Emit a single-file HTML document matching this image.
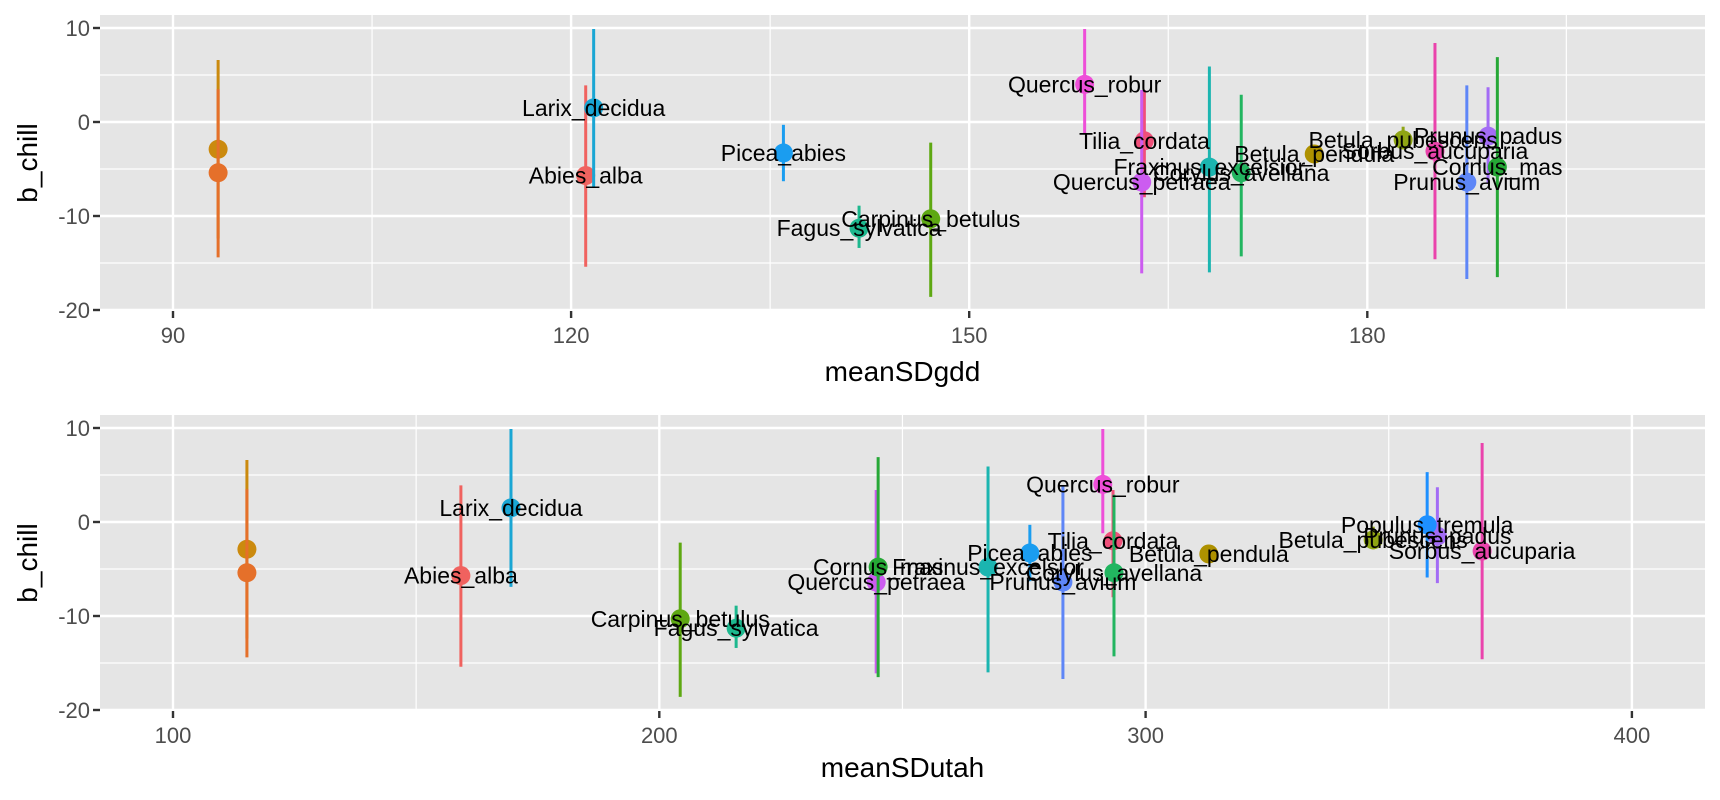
<!DOCTYPE html>
<html><head><meta charset="utf-8"><style>
html,body{margin:0;padding:0;background:#fff;}
svg{display:block;font-family:"Liberation Sans",Arial,sans-serif;}
</style></head><body>
<svg id="chart" width="1720" height="800" viewBox="0 0 1720 800"></svg>
<script>
const species = ["spA","spB","Abies_alba","Larix_decidua","Picea_abies","Fagus_sylvatica","Carpinus_betulus","Quercus_robur","Tilia_cordata","Quercus_petraea","Fraxinus_excelsior","Corylus_avellana","Betula_pendula","Betula_pubescens","Sorbus_aucuparia","Prunus_avium","Prunus_padus","Cornus_mas","Populus_tremula"];
const showLabel = [false,false,true,true,true,true,true,true,true,true,true,true,true,true,true,true,true,true,true];
const gddX = [93.4,93.4,121.1,121.7,136.0,141.7,147.1,158.7,163.2,163.0,168.1,170.5,176.0,182.7,185.1,187.5,189.1,189.8,null];
const utahX = [115.2,115.2,159.2,169.5,276.2,215.8,204.3,291.2,293.3,244.6,267.6,293.5,313.0,346.8,369.2,283.0,360.0,245.0,357.9];
const bchill = [-2.9,-5.4,-5.7,1.5,-3.3,-11.3,-10.3,4.0,-2.0,-6.4,-4.8,-5.4,-3.4,-1.9,-3.1,-6.4,-1.5,-4.8,-0.3];
const lo = [-12.4,-14.4,-15.4,-6.9,-6.3,-13.4,-18.6,-1.2,-8.0,-16.1,-16.0,-14.3,-4.3,-2.9,-14.6,-16.7,-6.5,-16.5,-5.9];
const hi = [6.6,3.5,3.9,9.9,-0.3,-8.9,-2.2,9.9,3.4,3.4,5.9,2.9,-2.5,-0.5,8.4,3.9,3.7,6.9,5.3];
const colors = ["#CB8A0E","#E5702A","#F0625F","#1AA6D4","#1A9DF0","#1DB88E","#5EA812","#EE4FD8","#F0507A","#CC5CF0","#1BB5B0","#22B560","#AE9100","#8FA514","#EA43AC","#5E86F7","#A36CF5","#26A836","#1E90FF"];
const yTicks = [10,0,-10,-20];
const yMinor = [5,-5,-15];
const gddTicks = [90,120,150,180];
const gddMinor = [105,135,165,195];
const utahTicks = [100,200,300,400];
const utahMinor = [150,250,350];

const NS="http://www.w3.org/2000/svg";
const svg=document.getElementById('chart');
function mk(tag,attrs,parent){const e=document.createElementNS(NS,tag);for(const k in attrs)e.setAttribute(k,attrs[k]);(parent||svg).appendChild(e);return e;}

function panel(cfg){
  const {top,xs,ticks,minor,xvals,title,name,tickBase,titleBase}=cfg;
  const left=100,right=1705,bottom=top+296;
  const ys=v=>top+107-(v*9.4);
  const g=mk('g',{});
  
  
  const bg=mk('rect',{x:left,y:top,width:right-left,height:bottom-top,fill:'#e5e5e5'},g);
  
  
  yMinor.forEach(v=>mk('line',{x1:left,x2:right,y1:ys(v),y2:ys(v),stroke:'#fff','stroke-width':1.2},g));
  minor.forEach(v=>mk('line',{x1:xs(v),x2:xs(v),y1:top,y2:bottom,stroke:'#fff','stroke-width':1.2},g));
  yTicks.forEach(v=>{
    mk('line',{x1:left,x2:right,y1:ys(v),y2:ys(v),stroke:'#fff','stroke-width':2.4},g);
    mk('line',{x1:93,x2:100,y1:ys(v),y2:ys(v),stroke:'#333','stroke-width':2.4},g);
    const t=mk('text',{x:90,y:ys(v)+8,'text-anchor':'end','font-size':22,fill:'#4d4d4d'},g);
    t.textContent=v;
    
    
  });
  ticks.forEach(v=>{
    mk('line',{x1:xs(v),x2:xs(v),y1:top,y2:bottom,stroke:'#fff','stroke-width':2.4},g);
    mk('line',{x1:xs(v),x2:xs(v),y1:bottom,y2:bottom+7,stroke:'#333','stroke-width':2.4},g);
    const t=mk('text',{x:xs(v),y:tickBase,'text-anchor':'middle','font-size':22,fill:'#4d4d4d'},g);
    t.textContent=v;
    
    
  });
  const xt=mk('text',{x:(left+right)/2,y:titleBase,'text-anchor':'middle','font-size':28,fill:'#000'},g);
  xt.textContent=title;
  
  
  const cy=(top+bottom)/2;
  const yt=mk('text',{x:37,y:cy,'text-anchor':'middle','font-size':28,fill:'#000',transform:`rotate(-90 37 ${cy})`},g);
  yt.textContent='b_chill';
  
  
  species.forEach((s,i)=>{
    const xv=xvals[i]; if(xv===null||xv===undefined) return;
    const bar=mk('line',{x1:xs(xv),x2:xs(xv),y1:ys(hi[i]),y2:ys(lo[i]),stroke:colors[i],'stroke-width':3},g);
    
    
    const pt=mk('circle',{cx:xs(xv),cy:ys(bchill[i]),r:9.5,fill:colors[i]},g);
    
    
  });
  species.forEach((s,i)=>{
    const xv=xvals[i]; if(xv===null||xv===undefined||!showLabel[i]) return;
    const t=mk('text',{x:xs(xv),y:ys(bchill[i])+8,'text-anchor':'middle','font-size':23,fill:'#000'},g);
    t.textContent=s;
    
    
  });
}
panel({top:15,xs:v=>173+(v-90)*13.27,ticks:gddTicks,minor:gddMinor,xvals:gddX,title:'meanSDgdd',name:'gdd-panel',tickBase:343,titleBase:381});
panel({top:415,xs:v=>173+(v-100)*4.863,ticks:utahTicks,minor:utahMinor,xvals:utahX,title:'meanSDutah',name:'utah-panel',tickBase:743,titleBase:777});
</script>
</body></html>
